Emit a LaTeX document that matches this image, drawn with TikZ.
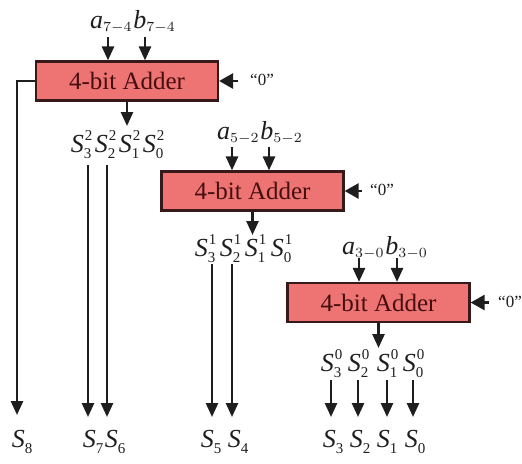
\documentclass[tikz,border=0pt]{standalone}
\usepackage{fontspec}
\setmainfont{Liberation Serif}
\DeclareMathSizes{13}{13}{7.5}{5}
\usetikzlibrary{arrows.meta,calc}
\definecolor{boxfill}{RGB}{238,115,115}
\definecolor{boxline}{RGB}{55,25,25}
\definecolor{boxtext}{RGB}{70,15,15}
\definecolor{ink}{RGB}{30,30,30}
\newcommand{\va}{\mbox{\itshape a}}
\newcommand{\vb}{\mbox{\itshape b}}
\newcommand{\scrsz}{\fontsize{7.5}{8}\selectfont}
% S with superscript #1 and subscript #2
\newcommand{\Ssup}[2]{\textit{S}\makebox[0pt][l]{\kern0.6pt\raisebox{5.8pt}{\scrsz #1}}\raisebox{-3.2pt}{\scrsz #2}}
% S with subscript only
\newcommand{\Ssb}[1]{\textit{S}\raisebox{-3.2pt}{\scrsz #1}}
\begin{document}
\begin{tikzpicture}[x=0.5pt,y=-0.5pt,
  adder/.style={draw=boxline, line width=1.1pt, fill=boxfill, minimum width=91pt, minimum height=19.5pt, inner sep=0pt, font=\fontsize{12.5}{14}\selectfont, text=boxtext},
  lbl/.style={inner sep=0pt, text=ink, font=\fontsize{13}{15}\selectfont},
  zerolbl/.style={inner sep=0pt, text=ink, font=\fontsize{8.5}{10}\selectfont},
  arr/.style={draw=ink, line width=1.3pt, -{Triangle[length=7pt,width=6pt]}},
  bigarr/.style={draw=ink, line width=1.3pt, -{Triangle[length=7pt,width=7.5pt]}},
]
\useasboundingbox (0,0) rectangle (522,463);

% adders
\node[adder] (add1) at (127,81) {4-bit Adder};
\node[adder] (add2) at (252.5,191) {4-bit Adder};
\node[adder] (add3) at (378.5,302.5) {4-bit Adder};

% input labels
\node[lbl, anchor=base east] (a1) at (133,28) {$\va_{7-4}$};
\node[lbl, anchor=base west] (b1) at (133,28) {$\vb_{7-4}$};
\node[lbl, anchor=base east] (a2) at (260,139) {$\va_{5-2}$};
\node[lbl, anchor=base west] (b2) at (260,139) {$\vb_{5-2}$};
\node[lbl, anchor=base east] (a3) at (385,254) {$\va_{3-0}$};
\node[lbl, anchor=base west] (b3) at (385,254) {$\vb_{3-0}$};

% input arrows
\coordinate (ta1) at (108,37);
\coordinate (tb1) at (145,37);
\coordinate (ta2) at (232,147);
\coordinate (tb2) at (269,147);
\coordinate (ta3) at (359,258);
\coordinate (tb3) at (397,258);
\draw[arr] (ta1) -- (ta1 |- add1.north);
\draw[arr] (tb1) -- (tb1 |- add1.north);
\draw[arr] (ta2) -- (ta2 |- add2.north);
\draw[arr] (tb2) -- (tb2 |- add2.north);
\draw[arr] (ta3) -- (ta3 |- add3.north);
\draw[arr] (tb3) -- (tb3 |- add3.north);

% carry-in "0"
\coordinate (z1) at (238,81);
\coordinate (z2) at (362,191);
\coordinate (z3) at (489,302.5);
\draw[bigarr] (z1) -- (add1.east);
\draw[bigarr] (z2) -- (add2.east);
\draw[bigarr] (z3) -- (add3.east);
\node[zerolbl] (q1) at (262,80) {``0''};
\node[zerolbl] (q2) at (382,190) {``0''};
\node[zerolbl] (q3) at (510,302) {``0''};

% output arrows
\coordinate (o1) at (127,126);
\coordinate (o2) at (252.5,235);
\coordinate (o3) at (378.5,348);
\draw[arr] (add1.south) -- (o1);
\draw[arr] (add2.south) -- (o2);
\draw[arr] (add3.south) -- (o3);

% partial sums
\node[lbl, anchor=base] (s32) at (81,152) {\Ssup{2}{3}};
\node[lbl, anchor=base] (s22) at (105,152) {\Ssup{2}{2}};
\node[lbl, anchor=base] (s12) at (129,152) {\Ssup{2}{1}};
\node[lbl, anchor=base] (s02) at (153,152) {\Ssup{2}{0}};
\node[lbl, anchor=base] (s31) at (205,256) {\Ssup{1}{3}};
\node[lbl, anchor=base] (s21) at (230,256) {\Ssup{1}{2}};
\node[lbl, anchor=base] (s11) at (255,256) {\Ssup{1}{1}};
\node[lbl, anchor=base] (s01) at (281,256) {\Ssup{1}{0}};
\node[lbl, anchor=base] (s30) at (331,371) {\Ssup{0}{3}};
\node[lbl, anchor=base] (s20) at (358,371) {\Ssup{0}{2}};
\node[lbl, anchor=base] (s10) at (387,371) {\Ssup{0}{1}};
\node[lbl, anchor=base] (s00) at (413,371) {\Ssup{0}{0}};

% final sums
\node[lbl, anchor=base] (S8) at (22,447) {\Ssb{8}};
\node[lbl, anchor=base] (S7) at (93,447) {\Ssb{7}};
\node[lbl, anchor=base] (S6) at (115,447) {\Ssb{6}};
\node[lbl, anchor=base] (S5) at (211,447) {\Ssb{5}};
\node[lbl, anchor=base] (S4) at (238,447) {\Ssb{4}};
\node[lbl, anchor=base] (S3) at (333,447) {\Ssb{3}};
\node[lbl, anchor=base] (S2) at (360,447) {\Ssb{2}};
\node[lbl, anchor=base] (S1) at (387,447) {\Ssb{1}};
\node[lbl, anchor=base] (S0) at (415,447) {\Ssb{0}};

% carry-out line
\coordinate (h8) at (17,415);
\draw[arr] (add1.west) -| (h8);

% long arrows
\coordinate (t7) at (88,165);  \coordinate (h7) at (88,417);
\coordinate (t6) at (107,165); \coordinate (h6) at (107,417);
\coordinate (t5) at (212,264); \coordinate (h5) at (212,417);
\coordinate (t4) at (232,264); \coordinate (h4) at (232,417);
\draw[arr] (t7) -- (h7);
\draw[arr] (t6) -- (h6);
\draw[arr] (t5) -- (h5);
\draw[arr] (t4) -- (h4);

% short arrows
\coordinate (t3) at (331,380); \coordinate (h3) at (331,417);
\coordinate (t2) at (358,380); \coordinate (h2) at (358,417);
\coordinate (t1) at (387,380); \coordinate (h1) at (387,417);
\coordinate (t0) at (413,380); \coordinate (h0) at (413,417);
\draw[arr] (t3) -- (h3);
\draw[arr] (t2) -- (h2);
\draw[arr] (t1) -- (h1);
\draw[arr] (t0) -- (h0);
\end{tikzpicture}
\end{document}
